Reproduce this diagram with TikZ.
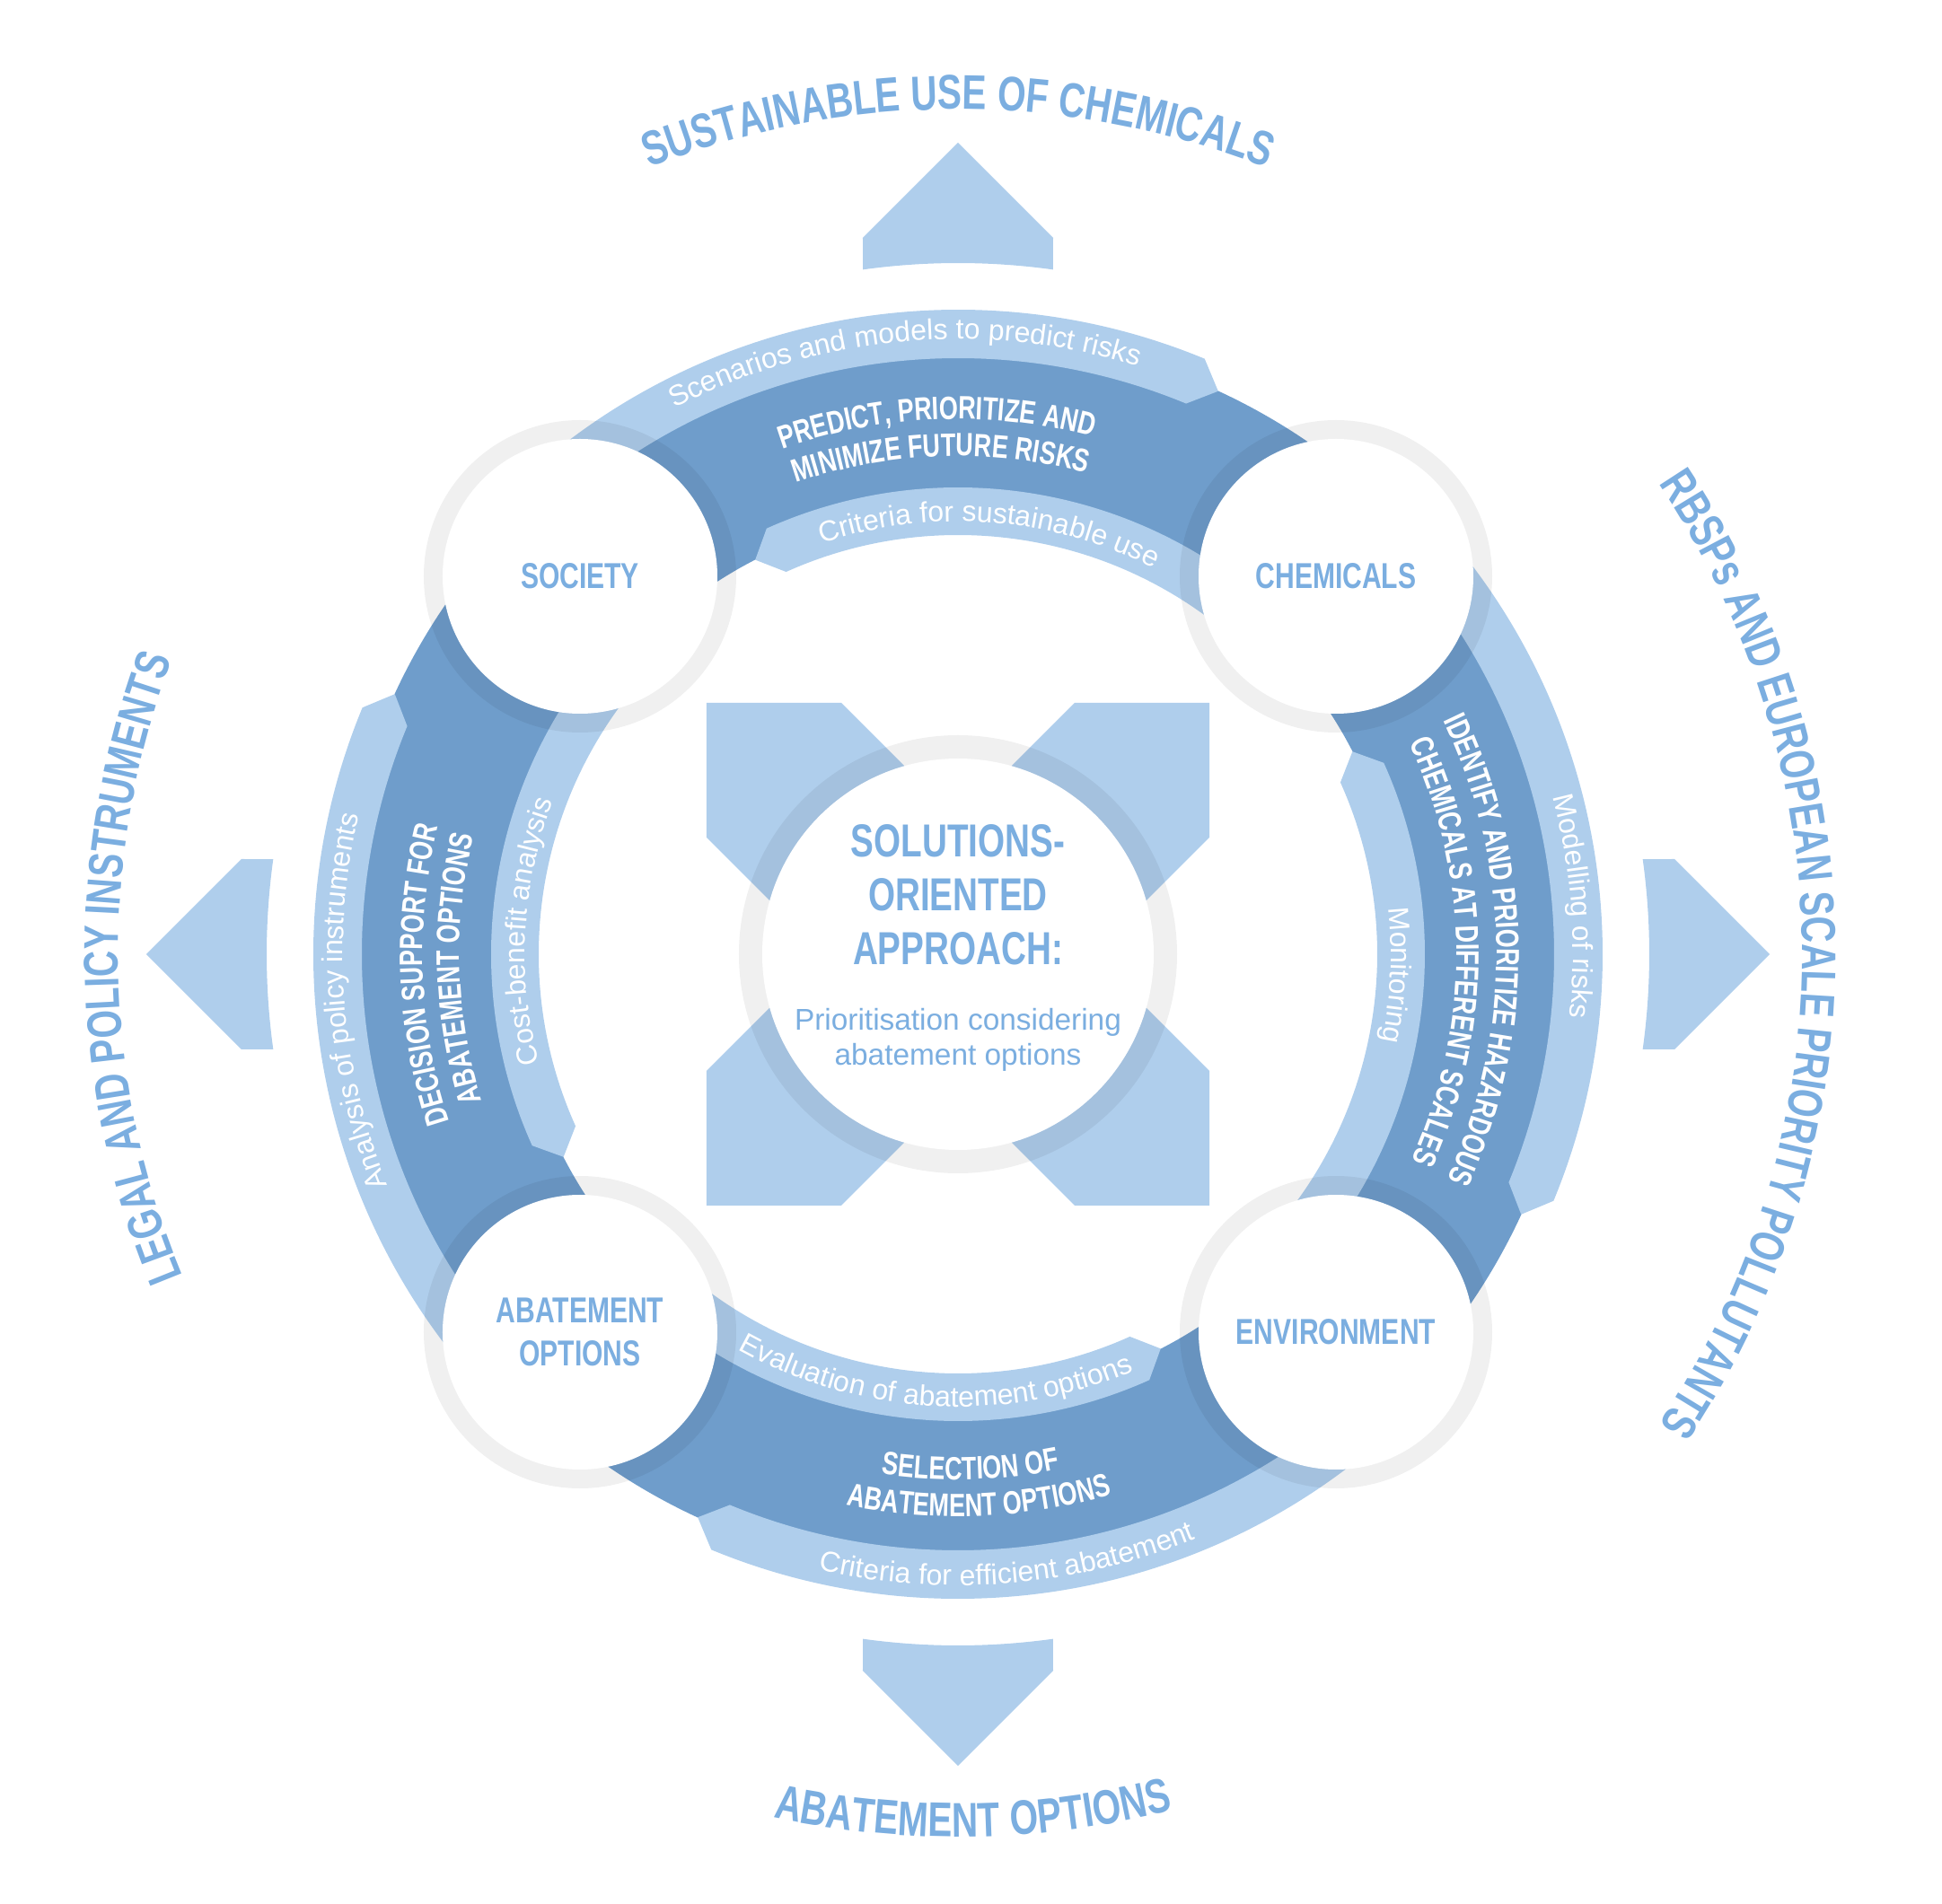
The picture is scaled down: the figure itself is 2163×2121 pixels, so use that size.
\documentclass[tikz,border=0pt]{standalone}
\usepackage{fontspec}
\setmainfont{Liberation Sans}
\newfontfamily\cnd{Liberation Sans}[FakeStretch=0.75]
\usetikzlibrary{decorations.text}
\definecolor{lb}{RGB}{175,206,236}
\definecolor{db}{RGB}{111,157,203}
\definecolor{tb}{RGB}{123,174,224}
\newcommand{\hdrfont}{\cnd\bfseries\fontsize{15.4}{18}\selectfont}
\newcommand{\bbfont}{\cnd\bfseries\fontsize{10.25}{12}\selectfont}
\newcommand{\blfont}{\fontsize{9.1}{11}\selectfont}
\newcommand{\cifont}{\cnd\bfseries\fontsize{11.4}{13.7}\selectfont}
\newcommand{\cwtext}[5]{\path[decorate,decoration={text along path,text align=center,text color=#2,text={|#1|#5}}] ({#3+75}:#4) arc[start angle={#3+75},end angle={#3-75},radius=#4];}
\newcommand{\ccwtext}[5]{\path[decorate,decoration={text along path,text align=center,text color=#2,text={|#1|#5}}] ({#3-75}:#4) arc[start angle={#3-75},end angle={#3+75},radius=#4];}
\begin{document}
\begin{tikzpicture}[x=0.01cm,y=0.01cm,
  ringshade/.style={fill=black,fill opacity=0.06},
  disc/.style={fill=white},
  lbl/.style={text=tb,font=\cifont,align=center,inner sep=0pt},
  ctitle/.style={text=tb,font=\cnd\bfseries\fontsize{14.65}{17}\selectfont,inner sep=0pt},
  csub/.style={text=tb,font=\fontsize{9.5}{11}\selectfont,inner sep=0pt}]
\useasboundingbox (-1067,-1058) rectangle (1096,1063);
% outer arrows
\foreach \r in {0,90,180,270}{
  \fill[lb,rotate=\r] (97.91:770) -- (-106,798) -- (0,904) -- (106,798) -- (82.09:770) arc[start angle=82.09,end angle=97.91,radius=770] -- cycle;
}
% central X shape
\fill[lb] (-280,280) -- (-130,280) -- (0,150) -- (130,280) -- (280,280) -- (280,130) -- (150,0) -- (280,-130) -- (280,-280) -- (130,-280) -- (0,-150) -- (-130,-280) -- (-280,-280) -- (-280,-130) -- (-150,0) -- (-280,130) -- cycle;
% ring segments
\foreach \r in {0,-90,-180,-270}{
 \begin{scope}[rotate=\r]
  \fill[db] (135:691) arc[start angle=135,end angle=45,radius=691] -- (45:494) arc[start angle=45,end angle=135,radius=494] -- cycle;
  \fill[lb] (135:718) arc[start angle=135,end angle=67.5,radius=718] -- (65.2:691) -- (67.5:664) arc[start angle=67.5,end angle=135,radius=664] -- cycle;
  \fill[lb] (45:520) arc[start angle=45,end angle=114.2,radius=520] -- (117.2:494) -- (114.2:467) arc[start angle=114.2,end angle=45,radius=467] -- cycle;
 \end{scope}
}
% circles
\coordinate (ctr) at (0,0);
\coordinate (soc) at (-421,421);
\coordinate (chem) at (421,421);
\coordinate (abat) at (-421,-421);
\coordinate (env) at (421,-421);
\fill[ringshade] (ctr) circle[radius=244];
\foreach \c in {soc,chem,abat,env}{\fill[ringshade] (\c) circle[radius=174];}
\fill[disc] (ctr) circle[radius=218];
\foreach \c in {soc,chem,abat,env}{\fill[disc] (\c) circle[radius=153];}
% circle labels
\node[lbl] (tsoc) at (soc) {SOCIETY};
\node[lbl] (tchem) at (chem) {CHEMICALS};
\node[lbl] (tabat) at (abat) {ABATEMENT\\OPTIONS};
\node[lbl] (tenv) at (env) {ENVIRONMENT};
% centre text
\node[ctitle,anchor=base] (sol1) at (0,108) {SOLUTIONS-};
\node[ctitle,anchor=base] (sol2) at (0,48) {ORIENTED};
\node[ctitle,anchor=base] (sol3) at (0,-11.6) {APPROACH:};
\node[csub,anchor=base] (sub1) at (0,-85) {Prioritisation considering};
\node[csub,anchor=base] (sub2) at (0,-124) {abatement options};
% top segment texts
\cwtext{\blfont}{white}{95.2}{685}{Scenarios and models to predict risks}
\cwtext{\bbfont}{white}{92.3}{596}{PREDICT, PRIORITIZE AND}
\cwtext{\bbfont}{white}{92}{555}{MINIMIZE FUTURE RISKS}
\cwtext{\blfont}{white}{85.7}{482}{Criteria for sustainable use}
% right segment texts
\cwtext{\blfont}{white}{4.5}{685}{Modelling of risks}
\cwtext{\bbfont}{white}{0.5}{600}{IDENTIFY AND PRIORITIZE HAZARDOUS}
\cwtext{\bbfont}{white}{0.3}{555}{CHEMICALS AT DIFFERENT SCALES}
\cwtext{\blfont}{white}{-2.75}{482}{Monitoring}
% left segment texts
\cwtext{\blfont}{white}{184.5}{685}{Analysis of policy instruments}
\cwtext{\bbfont}{white}{182.2}{596}{DECISION SUPPORT FOR}
\cwtext{\bbfont}{white}{181.7}{555}{ABATEMENT OPTIONS}
\cwtext{\blfont}{white}{176.9}{482}{Cost-benefit analysis}
% bottom segment texts
\ccwtext{\blfont}{white}{-93.1}{504}{Evaluation of abatement options}
\ccwtext{\bbfont}{white}{-88.6}{585}{SELECTION OF}
\ccwtext{\bbfont}{white}{-87.8}{626}{ABATEMENT OPTIONS}
\ccwtext{\blfont}{white}{-85.3}{703}{Criteria for efficient abatement}
% outer headings
\cwtext{\hdrfont}{tb}{90}{941}{SUSTAINABLE USE OF CHEMICALS}
\cwtext{\hdrfont}{tb}{0}{940}{RBSPs AND EUROPEAN SCALE PRIORITY POLLUTANTS}
\cwtext{\hdrfont}{tb}{181}{935}{LEGAL AND POLICY INSTRUMENTS}
\ccwtext{\hdrfont}{tb}{-89}{983}{ABATEMENT OPTIONS}
\end{tikzpicture}
\end{document}
